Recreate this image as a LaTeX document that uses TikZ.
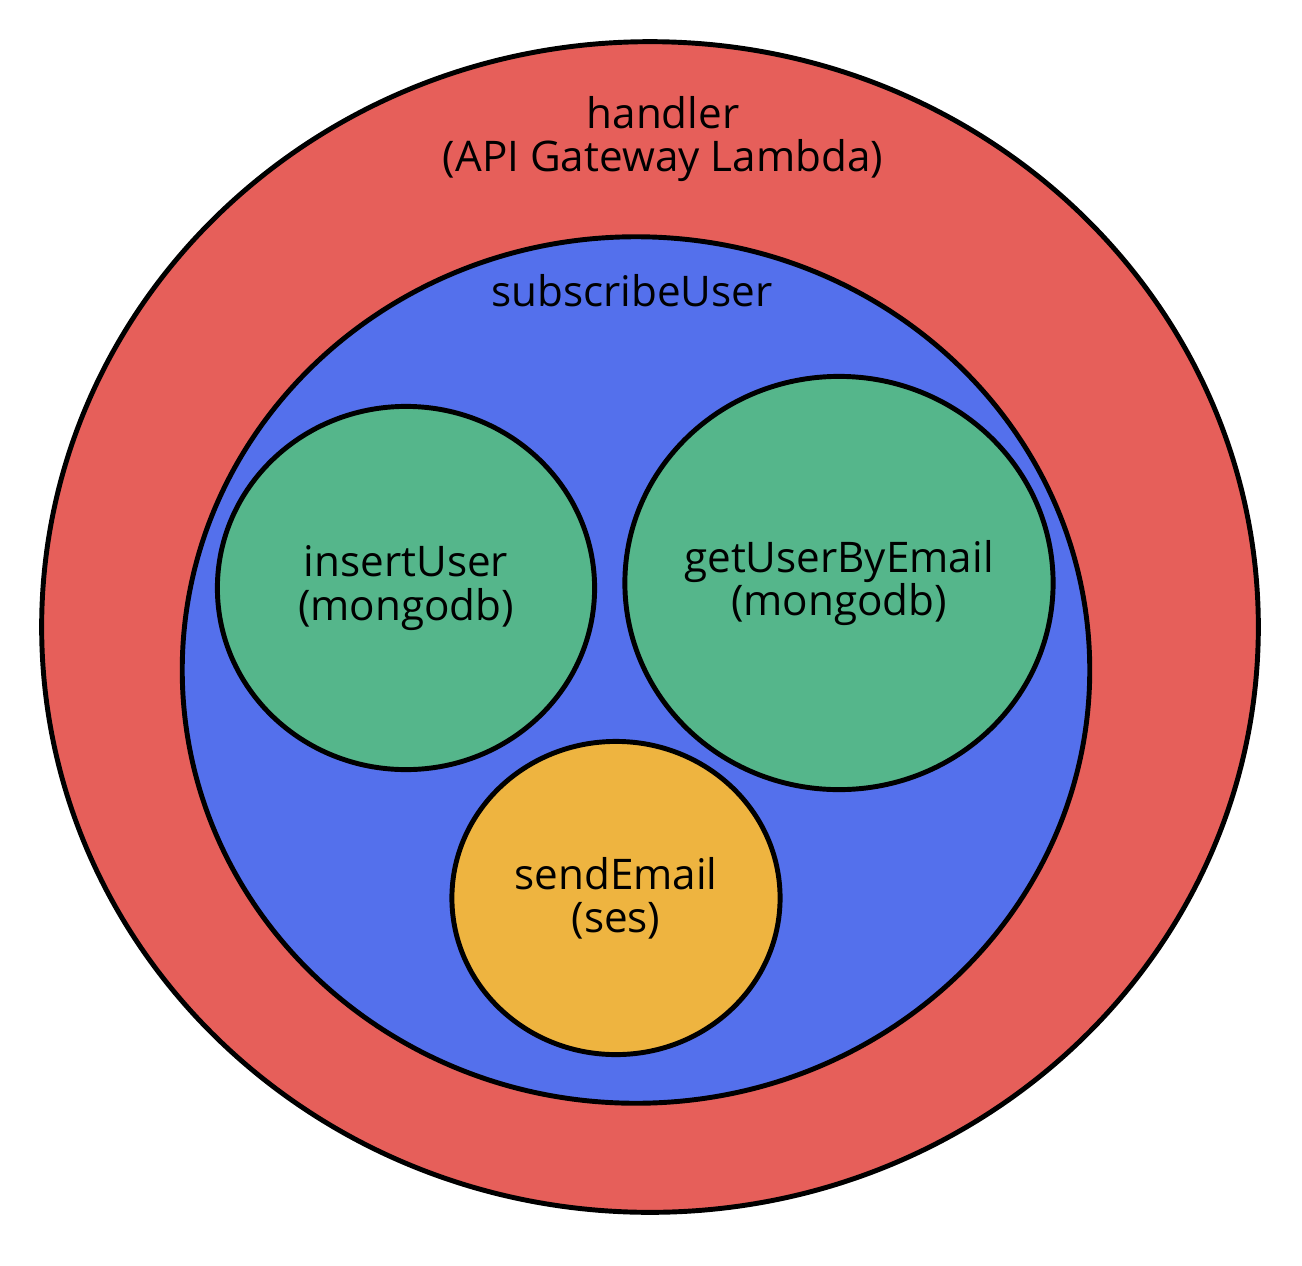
\documentclass[tikz,border=0pt]{standalone}
\usepackage{fontspec}
\setmainfont{Open Sans}
\usetikzlibrary{shapes.geometric}
\definecolor{cred}{RGB}{230,95,90}
\definecolor{cblue}{RGB}{84,112,236}
\definecolor{cgreen}{RGB}{85,182,139}
\definecolor{corange}{RGB}{238,180,64}
\tikzset{
  blob/.style={ellipse, draw=black, line width=1.4pt, inner sep=0pt},
  lbl/.style={align=center, font=\fontsize{12}{12.3}\selectfont, text=black}
}
\begin{document}
\begin{tikzpicture}[x=0.01cm,y=-0.01cm]
\path[fill=white] (0,0) rectangle (1302,1266);
\useasboundingbox (0,0) rectangle (1302,1266);
\node[blob, fill=cred, minimum width=12.16cm, minimum height=11.70cm] (handler) at (650,627) {};
\node[blob, fill=cblue, minimum width=9.07cm, minimum height=8.66cm] (subscribe) at (636,670) {};
\node[blob, fill=cgreen, minimum width=3.77cm, minimum height=3.63cm] (insert) at (406,588) {};
\node[blob, fill=cgreen, minimum width=4.28cm, minimum height=4.13cm] (getuser) at (839,583) {};
\node[blob, fill=corange, minimum width=3.28cm, minimum height=3.13cm] (send) at (616,898) {};
\node[lbl] (handlerlbl) at (663,139) {handler\\(API Gateway Lambda)};
\node[lbl] (subscribelbl) at (632,291) {subscribeUser};
\node[lbl] (insertlbl) at (insert) {insertUser\\(mongodb)};
\node[lbl] (getuserlbl) at (getuser) {getUserByEmail\\(mongodb)};
\node[lbl] (sendlbl) at (send) {sendEmail\\(ses)};
\end{tikzpicture}
\end{document}
